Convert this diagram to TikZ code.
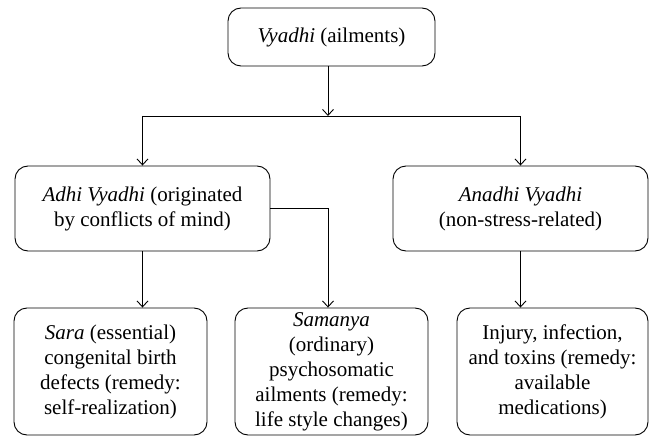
\documentclass[tikz,border=0pt]{standalone}
\usepackage{fontspec}
\setmainfont{Liberation Serif}
\usepackage{tikz}
\usetikzlibrary{positioning,calc,arrows.meta}
\tikzset{>={Straight Barb[length=6pt,width=11pt]}}
\tikzset{box/.style={draw,line width=.9pt,rounded corners=13pt,align=center,
  font=\fontsize{21}{25}\selectfont,inner sep=0pt}}

\begin{document}
\begin{tikzpicture}[x=1pt,y=-1pt,line width=.9pt]
\useasboundingbox (0,0) rectangle (649,436);
\node[box,minimum width=207,minimum height=58] (vyadhi) at (331.5,37)
  {\textit{Vyadhi} (ailments)};
\node[box,minimum width=255,minimum height=85] (adhi) at (142.5,208.5)
  {\textit{Adhi Vyadhi} (originated\\by conflicts of mind)};
\node[box,minimum width=255,minimum height=85] (anadhi) at (520.5,208.5)
  {\textit{Anadhi Vyadhi}\\(non-stress-related)};
\node[box,minimum width=193,minimum height=127] (sara) at (110.5,371.5)
  {\textit{Sara} (essential)\\congenital birth\\defects (remedy:\\self-realization)};
\node[box,minimum width=193,minimum height=127] (samanya) at (331.5,371.5)
  {\textit{Samanya}\\(ordinary)\\psychosomatic\\ailments (remedy:\\life style changes)};
\node[box,minimum width=191,minimum height=127] (injury) at (552.5,371.5)
  {Injury, infection,\\and toxins (remedy:\\available\\medications)};
\coordinate (split) at (328,116);
% first level
\draw[->] (vyadhi.south -| split) -- (split);
\draw (adhi.north |- split) -- (anadhi.north |- split);
\draw[->] (adhi.north |- split) -- (adhi.north);
\draw[->] (anadhi.north |- split) -- (anadhi.north);
% second level
\draw[->] (adhi.south) -- (adhi.south |- sara.north);
\draw[->] (adhi.east) -| (samanya.north -| split);
\draw[->] (anadhi.south) -- (anadhi.south |- injury.north);
\end{tikzpicture}
\end{document}
